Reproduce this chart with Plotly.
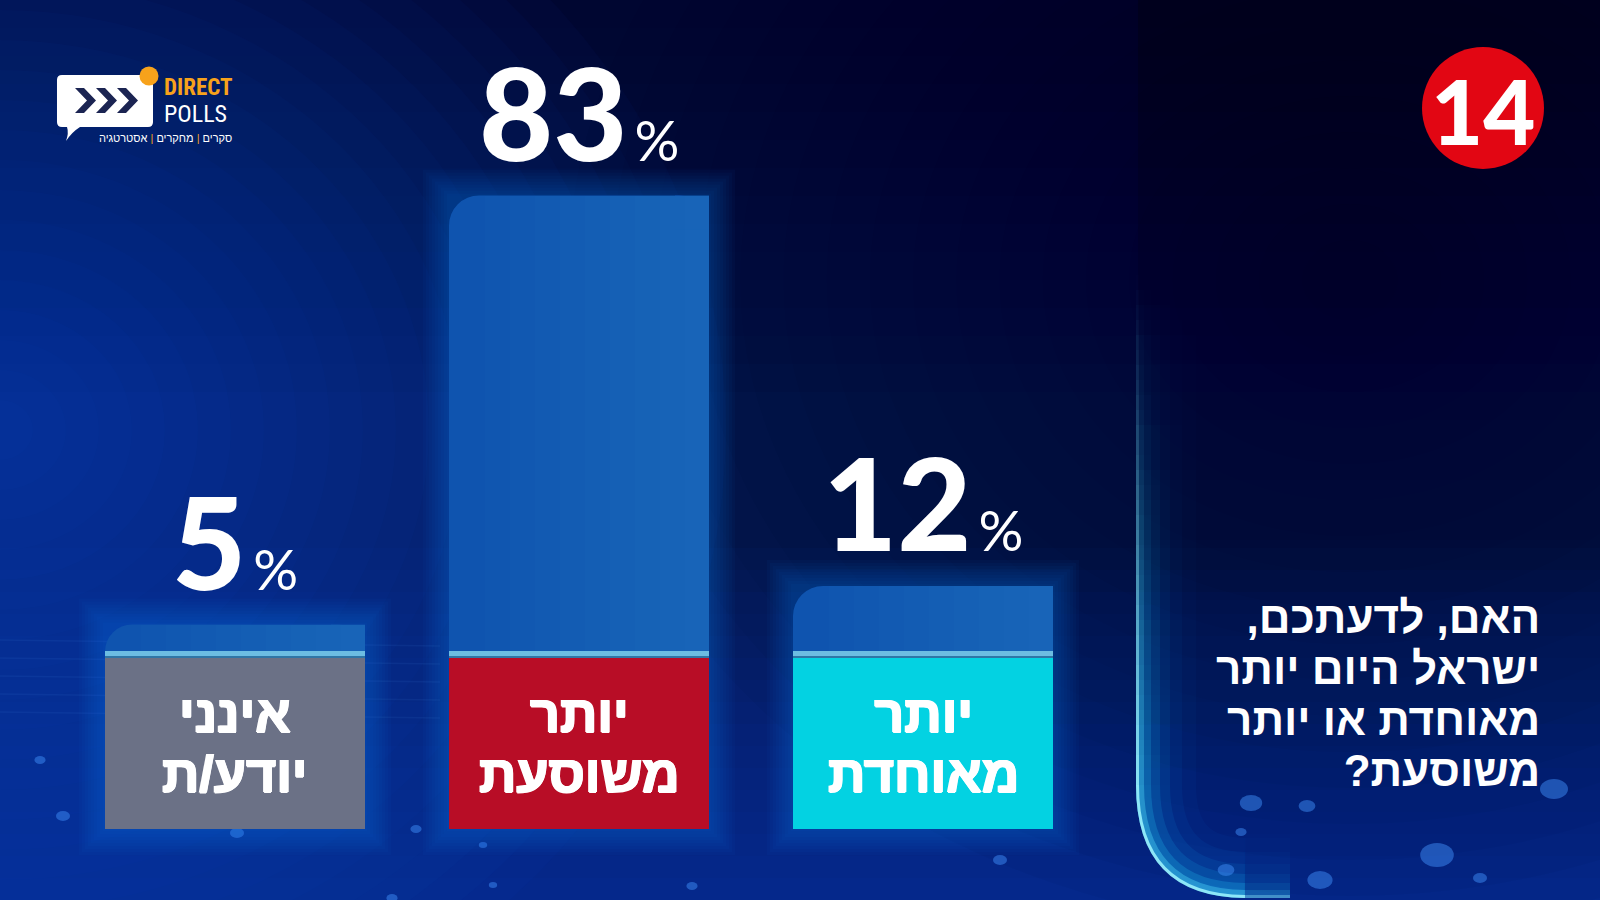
import plotly.graph_objects as go

# ---------------- data ----------------
categories = ["אינני יודע/ת", "יותר משוסעת", "יותר מאוחדת"]
label_line1 = ["אינני", "יותר", "יותר"]
label_line2 = ["יודע/ת", "משוסעת", "מאוחדת"]
values = [5, 83, 12]
label_colors = ["#6b7186", "#b80d26", "#03d2e2"]
question_lines = ["האם, לדעתכם,\u200f", "ישראל היום יותר", "מאוחדת או יותר", "משוסעת?\u200f"]
logo_sub = ["סקרים", "מחקרים", "אסטרטגיה"]

# ---------------- geometry (pixels) ----------------
W, H = 1600, 900
BASE = 652          # pixel row of 0 %
SCALE = 5.5         # pixels per percent
X0, STEP, BARW_PX = 235, 344, 260
bw = BARW_PX / STEP


def dx(p):
    return p / STEP


def vy(p):
    return (BASE - p) / SCALE


def PX(x):
    return x / W


def PY(y):
    return 1 - y / H


def P(x, y):
    return f"{PX(x):.5f},{PY(y):.5f}"


shapes = []
annotations = []


def prect(x0, y0, x1, y1, color, op=1.0, layer="below"):
    shapes.append(dict(type="rect", xref="paper", yref="paper", x0=PX(x0), x1=PX(x1),
                       y0=PY(y1), y1=PY(y0), fillcolor=color, opacity=op,
                       line=dict(width=0), layer=layer))


def pcircle(cx, cy, rx, ry, color, op=1.0, layer="below"):
    shapes.append(dict(type="circle", xref="paper", yref="paper", x0=PX(cx - rx), x1=PX(cx + rx),
                       y0=PY(cy + ry), y1=PY(cy - ry), fillcolor=color, opacity=op,
                       line=dict(width=0), layer=layer))


# ---------------- background ----------------
for k in range(14):                               # dark top
    prect(0, 0, W, 28 * (k + 1), "#010520", 0.06)
for k in range(22):                               # left glow
    r = 30 + 30 * k
    pcircle(0, 430, r * 1.1, r, "#1052dc", 0.035)
for k in range(16):                               # bottom glow
    prect(0, 900 - 22 * (k + 1), W, 900, "#0c4ad0", 0.045)
for k in range(18):                               # darker right / centre
    r = 40 + 36 * k
    pcircle(1350, 280, r * 1.2, r, "#010520", 0.03)
for k in range(5):                                # faint streaks
    shapes.append(dict(type="line", xref="paper", yref="paper", x0=PX(0), x1=PX(440),
                       y0=PY(640 + 18 * k), y1=PY(646 + 18 * k),
                       line=dict(color="#5aa8ff", width=1.5), opacity=0.07, layer="below"))
# right panel: very soft darkening
for k in range(10):
    prect(1138, 0, W, 60 * (k + 1), "#010721", 0.035)

# cyan edge glow of the panel (fades upward)
glow_layers = [(60, "#0a8cff", 0.04), (46, "#0a9cff", 0.06), (34, "#12b4ff", 0.09),
               (24, "#1ac8ff", 0.13), (15, "#27d6ff", 0.2), (8, "#55e4ff", 0.35), (3, "#a0f6ff", 0.85)]
ys = list(range(260, 791, 15))
for wdt, col, op in glow_layers:
    d = wdt / 2 - 1
    x = 1137 + d
    for a, b in zip(ys[:-1], ys[1:]):
        f = ((a - 260) / 530) ** 1.5
        shapes.append(dict(type="path", xref="paper", yref="paper",
                           path=f"M {P(x, a)} L {P(x, b)}",
                           line=dict(color=col, width=wdt), opacity=op * f, layer="below"))
    path = f"M {P(x, ys[-1])} Q {P(x, 896 - d)} {P(1245, 897 - d)}"
    shapes.append(dict(type="path", xref="paper", yref="paper", path=path,
                       line=dict(color=col, width=wdt), opacity=op, layer="below"))
    shapes.append(dict(type="path", xref="paper", yref="paper",
                       path=f"M {P(1245, 897 - d)} L {P(1290, 897 - d)}",
                       line=dict(color=col, width=wdt), opacity=op * 0.4, layer="below"))

# bokeh dots
dots = [(63, 816, 5), (237, 833, 5), (416, 829, 4), (483, 845, 3), (493, 885, 3), (692, 886, 4),
        (392, 898, 4), (1251, 803, 8), (1307, 806, 6), (1241, 832, 4), (1437, 855, 12),
        (1554, 789, 10), (1320, 880, 9), (1226, 870, 6), (1480, 878, 5), (40, 760, 4),
        (560, 745, 3), (1000, 860, 5)]
for cx, cy, r in dots:
    pcircle(cx, cy, r * 1.4, r, "#3d8cf5", 0.5)

# ---------------- bars: glow, label boxes ----------------
for i, v in enumerate(values):
    for g in range(2, 27, 3):
        shapes.append(dict(type="rect", xref="x", yref="y", x0=i - bw / 2 - dx(g), x1=i + bw / 2 + dx(g),
                           y0=vy(829 + g), y1=v + g / SCALE, fillcolor="#2a90ff", opacity=0.035,
                           line=dict(width=0), layer="below"))

BAR_COLOR = "#0f54af"
for i, v in enumerate(values):
    # square top-right corner
    shapes.append(dict(type="rect", xref="x", yref="y", x0=i + bw / 2 - dx(34), x1=i + bw / 2,
                       y0=v - 34 / SCALE, y1=v, fillcolor=BAR_COLOR, line=dict(width=0), layer="above"))
    # horizontal light gradient
    for k in range(9):
        shapes.append(dict(type="rect", xref="x", yref="y", x0=i - bw / 2 + dx(36 + 25 * k), x1=i + bw / 2,
                           y0=0, y1=v, fillcolor="#3d9be0", opacity=0.032, line=dict(width=0), layer="above"))
    # separator
    shapes.append(dict(type="rect", xref="x", yref="y", x0=i - bw / 2, x1=i + bw / 2,
                       y0=vy(656), y1=vy(651), fillcolor="#6cbde2", line=dict(width=0), layer="above"))
    shapes.append(dict(type="rect", xref="x", yref="y", x0=i - bw / 2, x1=i + bw / 2,
                       y0=vy(658), y1=vy(656), fillcolor="#2f76a6", line=dict(width=0), layer="above"))
    # label box
    shapes.append(dict(type="rect", xref="x", yref="y", x0=i - bw / 2, x1=i + bw / 2,
                       y0=vy(829), y1=vy(658), fillcolor=label_colors[i], line=dict(width=0), layer="above"))

HEB = "Liberation Sans, Open Sans, DejaVu Sans"
NUM = "Lato, Inter, Roboto, sans-serif"
HEAVY = "1px 0 0 #ffffff, -1px 0 0 #ffffff, 0 1px 0 #ffffff, 0.7px 0.7px 0 #ffffff"

for i, v in enumerate(values):
    big = "<span style='font-size:52px'>{}</span>"
    annotations.append(dict(x=i, y=vy(744), xref="x", yref="y",
                            text=big.format(label_line1[i]) + "<br>" + big.format(label_line2[i]),
                            showarrow=False, align="center",
                            font=dict(family=HEB, size=46, weight=700, color="white", shadow=HEAVY),
                            yanchor="middle"))
    annotations.append(dict(x=i, y=v, xref="x", yref="y", yanchor="bottom", yshift=6, showarrow=False,
                            text=f"{v}<span style='font-size:56px;font-weight:400'>\u2009%</span>",
                            font=dict(family=NUM, size=128, weight=900, color="white")))

# ---------------- question ----------------
qspan = "<span style='font-size:44px'>{}</span>"
annotations.append(dict(x=PX(1542), y=PY(694), xref="paper", yref="paper", xanchor="right",
                        yanchor="middle", text="<br>".join(qspan.format(t) for t in question_lines),
                        showarrow=False, align="right",
                        font=dict(family=HEB, size=39.3, weight=700, color="white")))

# ---------------- channel 14 logo ----------------
pcircle(1483, 108, 61, 61, "#e20613", 1.0, "above")
annotations.append(dict(x=PX(1483), y=PY(110), xref="paper", yref="paper", text="14", showarrow=False,
                        font=dict(family=NUM, size=90, weight=900, color="white"),
                        xanchor="center", yanchor="middle"))

# ---------------- Direct Polls logo ----------------
bubble = (f"M {P(62, 75)} L {P(148, 75)} Q {P(153, 75)} {P(153, 80)} L {P(153, 122)} "
          f"Q {P(153, 127)} {P(148, 127)} L {P(80, 127)} Q {P(72, 132)} {P(66, 141)} "
          f"Q {P(69, 133)} {P(67, 127)} L {P(62, 127)} Q {P(57, 127)} {P(57, 122)} "
          f"L {P(57, 80)} Q {P(57, 75)} {P(62, 75)} Z")
shapes.append(dict(type="path", xref="paper", yref="paper", path=bubble, fillcolor="white",
                   line=dict(width=0), layer="above"))
for k in range(3):
    x0 = 75 + 21 * k
    pts = [(x0, 88), (x0 + 9, 88), (x0 + 21, 100.5), (x0 + 9, 113), (x0, 113), (x0 + 12, 100.5)]
    path = "M " + " L ".join(P(a, b) for a, b in pts) + " Z"
    shapes.append(dict(type="path", xref="paper", yref="paper", path=path, fillcolor="#1b2452",
                       line=dict(width=0), layer="above"))
pcircle(149, 76, 9.5, 9.5, "#f7a21b", 1.0, "above")
NARROW = "Liberation Sans Narrow, Roboto Condensed, Liberation Sans"
annotations.append(dict(x=PX(162), y=PY(101), xref="paper", yref="paper", xanchor="left", yanchor="middle",
                        text=("<span style='font-size:23px;font-weight:700;color:#f7a21b'>DIRECT</span><br>"
                              "<span style='font-size:24px;font-weight:400'>POLLS</span>"),
                        showarrow=False, align="left",
                        font=dict(family=NARROW, size=21, color="white")))
sep = " <span style='color:#f7a21b'>|</span> "
annotations.append(dict(x=PX(234), y=PY(138), xref="paper", yref="paper", xanchor="right", yanchor="middle",
                        text=sep.join(logo_sub) + "\u200f", showarrow=False,
                        font=dict(family=HEB, size=11, weight=400, color="white")))

# ---------------- figure ----------------
fig = go.Figure()
fig.add_trace(go.Bar(x=list(range(len(values))), y=values, width=bw, hoverinfo="skip",
                     marker=dict(color=BAR_COLOR, cornerradius=30, line=dict(width=0)),
                     showlegend=False, name="values"))

fig.update_layout(
    width=W, height=H,
    margin=dict(l=0, r=0, t=0, b=0, pad=0),
    paper_bgcolor="#05174f", plot_bgcolor="rgba(0,0,0,0)",
    xaxis=dict(range=[-X0 / STEP, (W - X0) / STEP], visible=False, fixedrange=True),
    yaxis=dict(range=[-(H - BASE) / SCALE, BASE / SCALE], visible=False, fixedrange=True),
    shapes=shapes, annotations=annotations, showlegend=False,
)

fig.write_html("out.html", config={"displayModeBar": False, "staticPlot": True},
               post_script="document.body.style.margin='0';document.body.style.overflow='hidden';")
